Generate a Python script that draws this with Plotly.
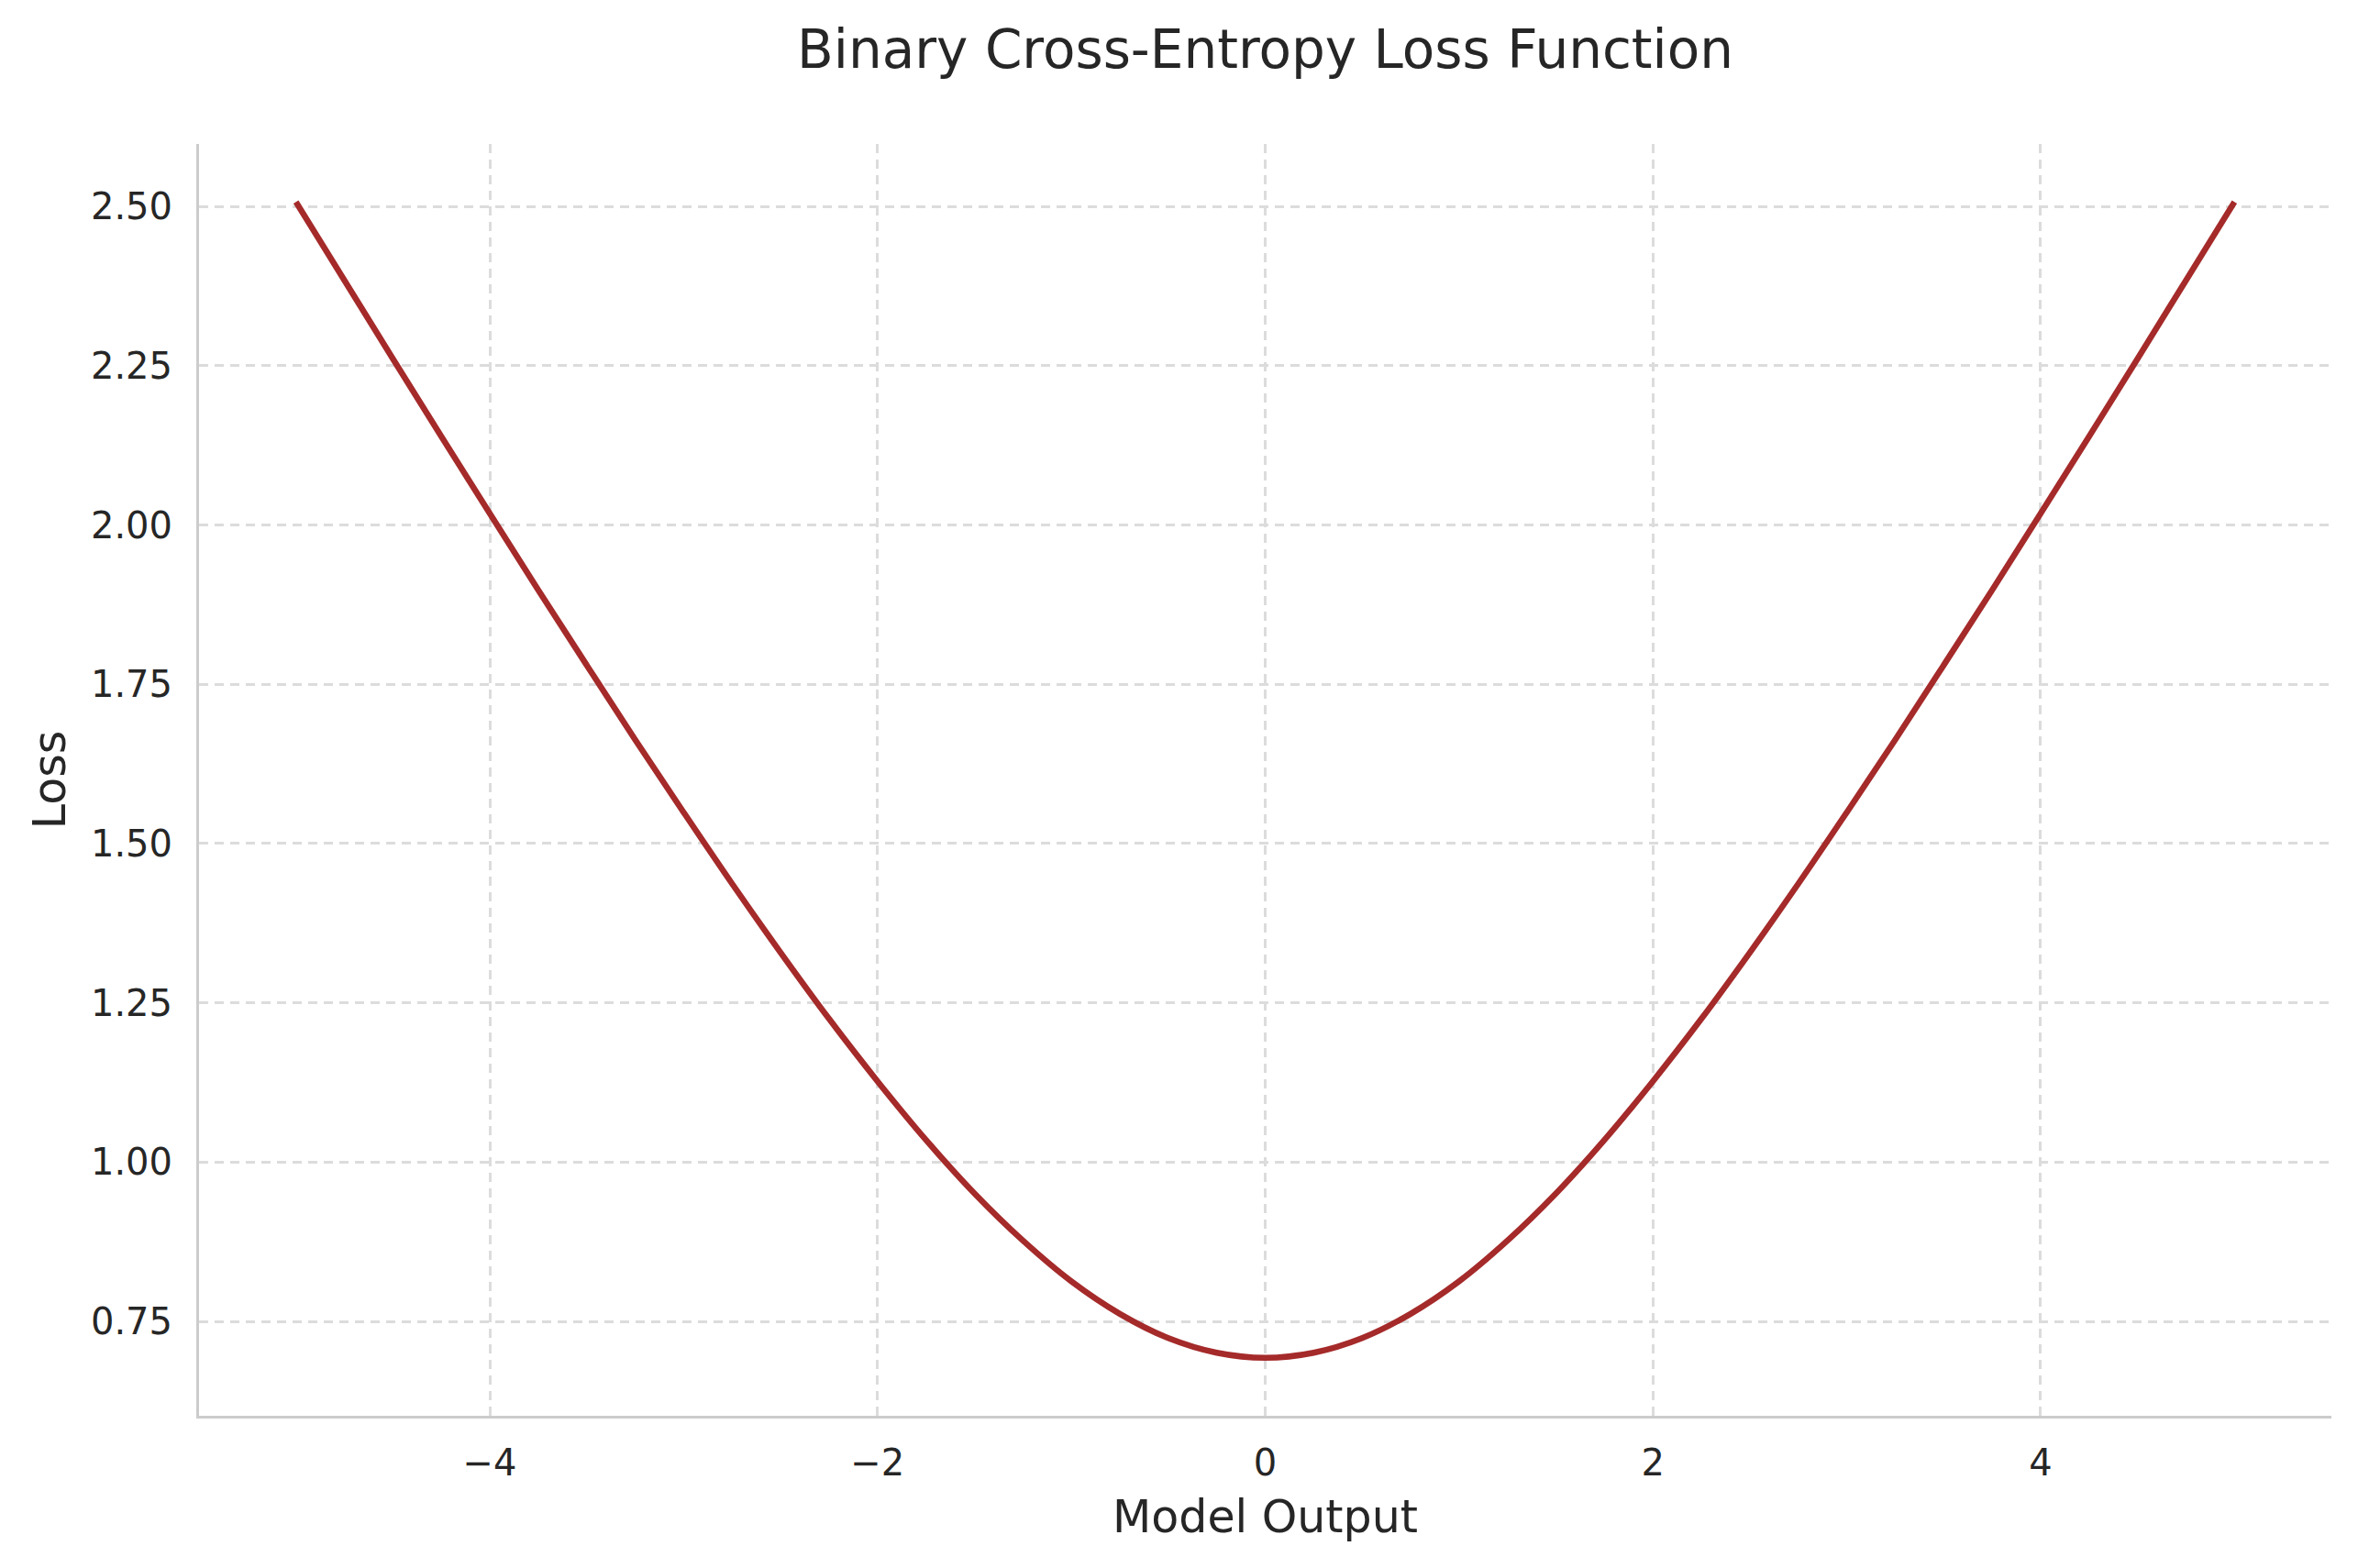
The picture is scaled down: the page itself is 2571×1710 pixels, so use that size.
import plotly.graph_objects as go

# Model output values (x) and corresponding loss values
model_output = [-5.0, -4.75, -4.5, -4.25, -4.0, -3.75, -3.5, -3.25, -3.0, -2.75,
                -2.5, -2.25, -2.0, -1.75, -1.5, -1.25, -1.0, -0.75, -0.5, -0.25,
                0.0, 0.25, 0.5, 0.75, 1.0, 1.25, 1.5, 1.75, 2.0, 2.25,
                2.5, 2.75, 3.0, 3.25, 3.5, 3.75, 4.0, 4.25, 4.5, 4.75, 5.0]
loss = [2.507, 2.384, 2.261, 2.139, 2.018, 1.898, 1.780, 1.663, 1.549, 1.437,
        1.329, 1.225, 1.127, 1.035, 0.951, 0.877, 0.813, 0.762, 0.724, 0.701,
        0.693, 0.701, 0.724, 0.762, 0.813, 0.877, 0.951, 1.035, 1.127, 1.225,
        1.329, 1.437, 1.549, 1.663, 1.780, 1.898, 2.018, 2.139, 2.261, 2.384, 2.507]

x_ticks = [-4, -2, 0, 2, 4]
y_ticks = [0.75, 1.00, 1.25, 1.50, 1.75, 2.00, 2.25, 2.50]

title_text = "Binary Cross-Entropy Loss Function"
x_label = "Model Output"
y_label = "Loss"

FONT = "DejaVu Sans"
TXT = "#262626"

fig = go.Figure()
fig.add_trace(go.Scatter(
    x=model_output, y=loss, mode="lines",
    line=dict(color="#a52a2a", width=6.5, shape="spline", smoothing=1.0),
    showlegend=False,
))

fig.update_layout(
    width=2571, height=1710,
    margin=dict(l=217, r=29, t=157, b=166),
    paper_bgcolor="white", plot_bgcolor="white",
    font=dict(family=FONT, color=TXT, size=40),
    title=dict(text=title_text, x=0.5, xref="paper", xanchor="center",
               y=1 - 54 / 1710, yref="container", yanchor="middle",
               font=dict(family=FONT, size=58, color=TXT)),
)

fig.update_xaxes(
    range=[-5.5, 5.5], tickvals=x_ticks,
    showgrid=True, gridcolor="#dcdcdc", gridwidth=2.5, griddash="10px,7px",
    showline=True, linecolor="#cccccc", linewidth=3, mirror=False,
    zeroline=False, ticks="", ticklabelstandoff=14,
    tickfont=dict(family=FONT, size=40, color=TXT),
    title=dict(text=x_label, font=dict(family=FONT, size=49, color=TXT), standoff=20),
)
fig.update_yaxes(
    range=[0.602, 2.598], tickvals=y_ticks, tickformat=".2f",
    showgrid=True, gridcolor="#dcdcdc", gridwidth=2.5, griddash="10px,7px",
    showline=True, linecolor="#cccccc", linewidth=3, mirror=False,
    zeroline=False, ticks="", ticklabelstandoff=18,
    tickfont=dict(family=FONT, size=40, color=TXT),
    title=dict(text=y_label, font=dict(family=FONT, size=49, color=TXT), standoff=12),
)

fig.write_html("out.html")
